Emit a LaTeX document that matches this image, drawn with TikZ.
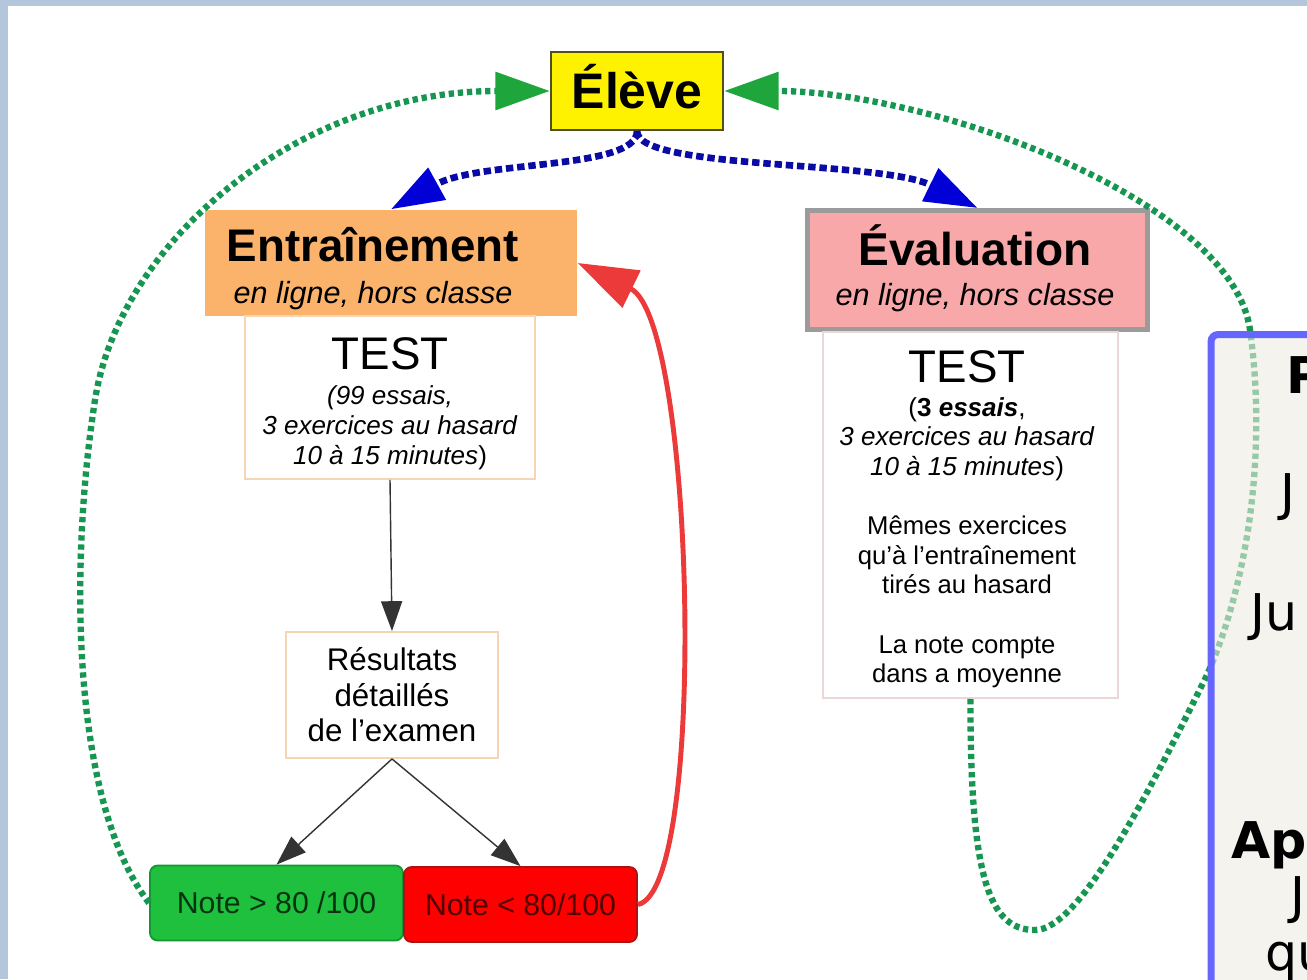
\documentclass[tikz,border=0pt]{standalone}
\usepackage{fontspec}
\setmainfont{Liberation Sans}
\newfontfamily\sidefont{DejaVu Sans}
\usetikzlibrary{arrows.meta}

\definecolor{framebg}{RGB}{180,198,220}
\definecolor{eleveline}{RGB}{80,80,30}
\definecolor{entorange}{RGB}{251,179,108}
\definecolor{testline}{RGB}{245,214,180}
\definecolor{evpink}{RGB}{248,168,168}
\definecolor{evgray}{RGB}{155,155,155}
\definecolor{evtestline}{RGB}{234,216,216}
\definecolor{okgreen}{RGB}{30,192,62}
\definecolor{okline}{RGB}{20,150,50}
\definecolor{oktext}{RGB}{8,50,16}
\definecolor{koline}{RGB}{170,20,20}
\definecolor{kotext}{RGB}{80,0,0}
\definecolor{loopgreen}{RGB}{22,150,80}
\definecolor{tipgreen}{RGB}{30,165,60}
\definecolor{linkblue}{RGB}{10,10,165}
\definecolor{tipblue}{RGB}{0,0,215}
\definecolor{backred}{RGB}{236,58,58}
\definecolor{sideblue}{RGB}{102,102,255}
\definecolor{sidefill}{RGB}{238,236,226}

\newcommand\fs[2]{\fontsize{#1}{#2}\selectfont}

\tikzset{
  headbox/.style={inner sep=0pt},
  testbox/.style={draw=testline, fill=white, line width=0.5pt, inner sep=0pt, align=center},
  boxtext/.style={inner sep=0pt, align=center, anchor=north},
  notebox/.style={rounded corners=2.2pt, line width=0.5pt, inner sep=0pt,
    minimum height=0.75cm, font=\fs{8.6}{10}},
  flow/.style={draw=black!80, line width=0.4pt, -{Triangle[length=8.5pt,width=6pt]}},
  greenloop/.style={draw=loopgreen, line width=1.8pt, dash pattern=on 1.5pt off 1.1pt,
    -{Triangle[length=15.5pt,width=10.5pt,color=tipgreen]}},
  bluelink/.style={draw=linkblue, line width=1.9pt, dash pattern=on 2.1pt off 1.1pt,
    -{Triangle[length=15pt,width=10pt,color=tipblue]}},
  sidetext/.style={anchor=base west, inner sep=0pt, font=\sidefont\fs{14.4}{17}},
}

\begin{document}
\begin{tikzpicture}[x=0.01cm, y=-0.01cm]
\useasboundingbox (0,0) rectangle (1307,979);
\clip (0,0) rectangle (1307,979);
\fill[framebg] (0,0) rectangle (1307,979);
\fill[white] (8,6) rectangle (1307,979);

% boxes
\node[headbox, draw=eleveline, fill=yellow, line width=0.6pt, minimum width=1.72cm,
  minimum height=0.78cm] (eleve) at (637,91) {};
\node[inner sep=0pt, anchor=base, font=\fs{14.2}{17}\bfseries] (elevetxt) at (637,109) {Élève};

\node[headbox, fill=entorange, minimum width=3.72cm, minimum height=1.06cm] (entr) at (391,263) {};
\node[boxtext, font=\fs{8.7}{10.8}] (entrtxt) at (373,227)
  {{\fs{13}{15}\bfseries Entraînement}\\[1pt]{\itshape en ligne, hors classe}};
\node[testbox, minimum width=2.9cm, minimum height=1.63cm] (trtest) at (390,397.5) {};
\node[boxtext, font=\fs{7.4}{8.5}] (trtesttxt) at (390,337)
  {{\fs{13}{15}TEST}\\[1.5pt]\textit{(99 essais,}\\\textit{3 exercices au hasard}\\\textit{10 à 15 minutes})};
\node[testbox, minimum width=2.12cm, minimum height=1.26cm, font=\fs{8.9}{10.1}]
  (result) at (392,695) {Résultats\\détaillés\\de l'examen};
\node[notebox, draw=okline, fill=okgreen, text=oktext, minimum width=2.53cm]
  (noteok) at (276.5,903) {Note > 80 /100};
\node[notebox, draw=koline, fill=red, text=kotext, minimum width=2.33cm]
  (noteko) at (520.5,904.5) {Note < 80/100};

\node[headbox, draw=evgray, fill=evpink, line width=1.4pt, minimum width=3.4cm,
  minimum height=1.19cm] (evalu) at (977.5,270) {};
\node[boxtext, font=\fs{8.7}{10.6}] (evalutxt) at (975,224)
  {{\fs{13.1}{15}\bfseries Évaluation}\\[0.8pt]{\itshape en ligne, hors classe}};
\node[testbox, draw=evtestline, minimum width=2.95cm, minimum height=3.66cm] (evtest) at (970.5,515) {};
\node[boxtext, font=\fs{7.4}{8.4}] (evtesttxt) at (967,350)
  {{\fs{13}{15}TEST}\\[1.2pt](\textbf{3 \textit{essais}},\\\textit{3 exercices au hasard}\\\textit{10 à 15 minutes})\\[8.5pt]
   {\fs{7.3}{8.4}Mêmes exercices}\\{\fs{7.3}{8.4}qu'à l'entraînement}\\{\fs{7.3}{8.4}tirés au hasard}\\[8.5pt]
   {\fs{7.3}{8.4}La note compte}\\{\fs{7.3}{8.4}dans a moyenne}};

% flow inside the training loop
\draw[flow] (trtest.south) -- (result.north);
\draw[flow] (result.south) -- (noteok.north);
\draw[flow] (result.south) -- (noteko.north);

% loops back to the pupil
\draw[bluelink] (eleve.south) .. controls (637,170) and (480,160) .. (entr.north);
\draw[bluelink] (eleve.south) .. controls (637,170) and (880,160) .. (evalu.north);
\draw[draw=backred, line width=1.4pt, -{Triangle[length=17pt,width=11.5pt]}]
  (noteko.east) .. controls (708,890) and (695,320) .. (entr.east);
\draw[greenloop] (noteok.west) .. controls (70,800) and (70,560) .. (95,400)
  .. controls (120,240) and (300,91) .. (eleve.west);
\draw[greenloop] (evtest.south) .. controls (970,880) and (990,930) .. (1035,930)
  .. controls (1080,930) and (1150,790) .. (1207,675)
  .. controls (1245,590) and (1268,460) .. (1250,330)
  .. controls (1232,200) and (930,91) .. (eleve.east);

% side panel, cut by the frame
\node[draw=sideblue, fill=sidefill, fill opacity=0.6, line width=2pt, rounded corners=2pt,
  anchor=north west, minimum width=2cm, minimum height=7cm] (side) at (1207.5,331) {};
\node[sidetext] (sp) at (1286,393) {\textbf{P}};
\node[sidetext] (sj) at (1280,510) {J};
\node[sidetext] (sju) at (1250,630) {Ju};
\node[sidetext] (sapp) at (1231,858) {\textbf{App}};
\node[sidetext] (sj2) at (1290,913) {J};
\node[sidetext] (squ) at (1265,970) {qu};
\end{tikzpicture}
\end{document}
